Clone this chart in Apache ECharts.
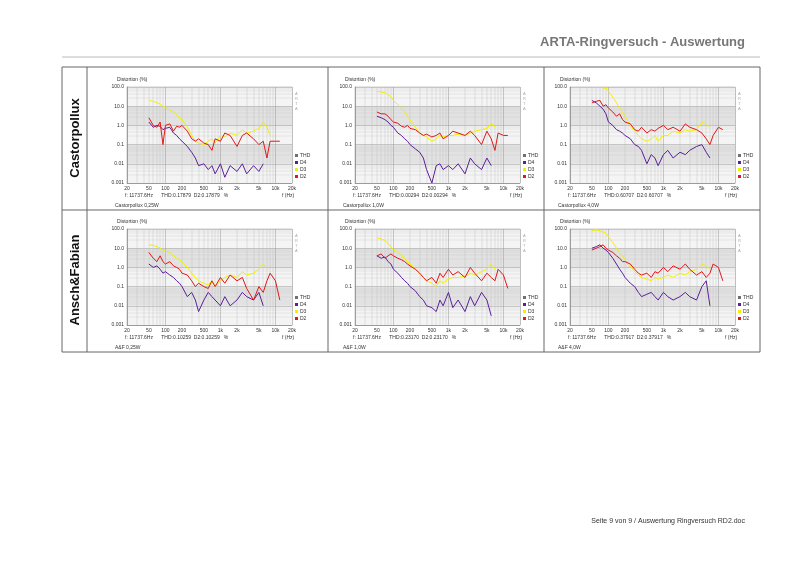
<!DOCTYPE html><html><head><meta charset="utf-8">
<script src="https://cdn.jsdelivr.net/npm/echarts@6/dist/echarts.min.js"></script>
<style>html,body{margin:0;padding:0;background:#fff}#c{width:800px;height:565px}</style></head><body><div id="c"></div>
<script>
const freqs=[50,60,70,80,90,100,120,140,160,180,200,250,300,350,400,500,600,700,800,1000,1200,1500,2000,2500,3000,4000,5000,6000,7000,8000,10000,12000];
const xTicks=[20,50,100,200,500,1000,2000,5000,10000,20000];
const xTickLabels=['20','50','100','200','500','1k','2k','5k','10k','20k'];
const yTickLabels=['0.001','0.01','0.1','1.0','10.0','100.0'];
const rowLabels=['Castorpollux','Ansch&Fabian'];
const captions=['Castorpollux 0,25W','Castorpollux 1,0W','Castorpollux 4,0W','A&F 0,25W','A&F 1,0W','A&F 4,0W'];
const thdTexts=['0.17879','0.00294','0.60707','0.10259','0.23170','0.37917'];
// per panel: D4, D3, D2
const d4_1=[1.5,0.8,1,0.9,0.6,0.7,0.8,0.4,0.3,0.2,0.15,0.08,0.04,0.02,0.008,0.01,0.005,0.008,0.003,0.01,0.002,0.008,0.004,0.01,0.003,0.008,0.004,0.01,null,null,null,null];
const d3_1=[20,18,15,13,10,9,6,5,3.5,2.5,2,0.8,0.3,0.15,0.12,0.1,0.15,0.2,0.12,0.3,0.25,0.4,0.3,0.6,0.4,0.5,0.7,1.5,0.8,0.3,null,null];
const d2_1=[2.5,1,0.8,1.5,0.1,1,1.2,0.5,0.9,0.8,1,0.5,0.2,0.15,0.2,0.12,0.1,0.05,0.2,0.15,0.4,0.3,0.08,0.3,0.4,0.2,0.1,0.15,0.02,0.15,0.15,0.15];
const d4_2=[3,2.5,2,1.5,1,0.8,0.4,0.3,0.2,0.15,0.1,0.06,0.04,0.02,0.005,0.001,0.008,0.01,0.005,0.008,0.005,0.01,0.003,0.02,0.01,0.005,0.02,0.008,null,null,null,null];
const d3_2=[60,55,50,40,30,20,12,8,5,3,2,0.8,0.4,0.3,0.25,0.15,0.2,0.3,0.25,0.3,0.3,0.35,0.3,0.4,0.5,0.6,0.7,1.3,0.8,null,null,null];
const d2_2=[5,4,4,3,2,1.5,1.3,0.9,0.8,1,0.7,0.6,0.4,0.3,0.35,0.25,0.3,0.4,0.2,0.3,0.5,0.4,0.3,0.5,0.3,0.1,0.5,0.2,0.05,0.4,0.3,0.3];
const d4_3=[20,15,10,7,4,1.5,1,0.6,0.5,0.4,0.3,0.2,0.1,0.08,0.05,0.01,0.03,0.02,0.008,0.03,0.05,0.02,0.04,0.03,0.05,0.08,0.1,0.04,0.02,null,null,null];
const d3_3=[null,null,null,80,90,60,30,15,8,5,3,1,0.5,0.3,0.2,0.15,0.2,0.3,0.15,0.3,0.3,0.5,0.4,0.6,0.5,0.6,1.5,1.2,0.8,null,null,null];
const d2_3=[15,18,20,10,12,8,5,3,4,2,1.5,1.2,0.6,0.5,0.8,0.4,0.6,0.5,0.7,1,0.6,0.8,0.5,1.2,0.8,0.6,0.4,0.2,0.1,0.3,0.8,0.6];
const d4_4=[1.5,1,1.2,0.8,0.5,0.6,0.4,0.3,0.2,0.15,0.1,0.03,0.05,0.02,0.005,0.02,0.05,0.03,0.02,0.01,0.03,0.01,0.02,0.05,0.03,0.02,0.05,0.01,null,null,null,null];
const d3_4=[15,14,12,10,8,7,6,4,3,2.5,2,1,0.5,0.3,0.2,0.15,0.12,0.2,0.1,0.2,0.3,0.4,0.3,0.6,0.4,0.5,0.8,1.5,0.9,null,null,null];
const d2_4=[6,3,2,4,2,1.5,2,1.2,1,0.8,0.5,0.4,0.2,0.1,0.15,0.1,0.08,0.2,0.1,0.3,0.15,0.4,0.2,0.3,0.08,0.02,0.1,0.05,0.2,0.5,0.2,0.02];
const d4_5=[4,3,3.5,2,1.5,0.8,0.5,0.3,0.2,0.15,0.1,0.06,0.03,0.02,0.01,0.008,0.005,0.02,0.01,0.05,0.008,0.02,0.005,0.03,0.01,0.05,0.02,0.003,null,null,null,null];
const d3_5=[35,30,25,18,12,8,6,4,3,2,1.5,0.8,0.5,0.3,0.2,0.15,0.1,0.2,0.15,0.25,0.3,0.3,0.35,0.5,0.4,0.6,0.8,1.5,0.8,null,null,null];
const d2_5=[4,5,3,4,5,4,3,2.5,2,1.5,1.2,0.8,0.5,0.3,0.2,0.3,0.15,0.5,0.3,0.8,0.4,0.6,0.3,1,0.5,0.2,0.5,0.3,0.2,0.8,0.4,0.08];
const d4_6=[10,12,15,10,8,6,3,1.5,0.8,0.5,0.3,0.15,0.1,0.05,0.03,0.04,0.05,0.03,0.02,0.05,0.03,0.02,0.03,0.05,0.03,0.02,0.1,0.2,0.01,null,null,null];
const d3_6=[80,90,80,70,60,40,20,10,6,4,2.5,1.2,0.6,0.4,0.3,0.25,0.2,0.3,0.25,0.3,0.4,0.3,0.5,0.4,0.6,0.8,1.5,1.2,0.8,null,null,null];
const d2_6=[8,10,12,15,10,8,6,4,3,2,2,1.5,0.8,0.5,0.4,0.5,0.3,0.6,0.5,1,0.6,1.2,0.8,1.5,0.8,0.4,0.6,0.3,0.5,1.5,1,0.2];
const panels=[[d4_1,d3_1,d2_1],[d4_2,d3_2,d2_2],[d4_3,d3_3,d2_3],[d4_4,d3_4,d2_4],[d4_5,d3_5,d2_5],[d4_6,d3_6,d2_6]];
const seriesNames=['D4','D3','D2'];
const colors={THD:'#707070',D4:'#5a1f9c',D3:'#f0f000',D2:'#e01818'};

const px=[127,355,570], py=[87,229], pw=165, ph=96;
const grid=[],xAxis=[],yAxis=[],series=[],legend=[],g=[];
const tiny={fontSize:5,color:'#333',fontFamily:'Arial'};
panels.forEach((p,i)=>{
  const r=Math.floor(i/3),c=i%3,L=px[c],T=py[r];
  grid.push({left:L,top:T,width:pw,height:ph,show:true,backgroundColor:'#fafafa',borderColor:'#999',borderWidth:0.5});
  xAxis.push({type:'log',gridIndex:i,min:20,max:20000,logBase:10,
    axisLine:{lineStyle:{color:'#777',width:0.5}},axisTick:{show:false},
    axisLabel:{customValues:xTicks,formatter:v=>xTickLabels[xTicks.indexOf(Math.round(v))]??'',fontSize:5,color:'#333',margin:3},
    splitLine:{show:true,lineStyle:{color:'#999',width:0.5}},minorTick:{show:false,splitNumber:9},
    minorSplitLine:{show:true,lineStyle:{color:'#bbb',width:0.4}}});
  yAxis.push({type:'log',gridIndex:i,min:0.001,max:100,logBase:10,
    axisLine:{lineStyle:{color:'#777',width:0.5}},axisTick:{show:false},
    axisLabel:{formatter:v=>{const k=Math.round(Math.log10(v))+3;return yTickLabels[k]??''},fontSize:5,color:'#333',margin:3},
    splitLine:{lineStyle:{color:'#999',width:0.5}},
    splitArea:{show:true,areaStyle:{color:['#f4f4f4','#e2e2e2']}},
    minorSplitLine:{show:true,lineStyle:{color:'#ccc',width:0.4}}});
  p.forEach((arr,k)=>{
    series.push({type:'line',name:seriesNames[k],xAxisIndex:i,yAxisIndex:i,showSymbol:false,
      data:freqs.map((f,j)=>arr[j]==null?null:[f,arr[j]]),connectNulls:false,
      lineStyle:{width:1,color:colors[seriesNames[k]]},itemStyle:{color:colors[seriesNames[k]]},z:k===0?3:(k===1?4:5),silent:true});
  });
  legend.push({left:L+pw+3,top:T+ph-30,orient:'vertical',itemWidth:3,itemHeight:3,itemGap:2,icon:'rect',
    data:['THD','D4','D3','D2'],textStyle:{fontSize:5,color:'#333',padding:[0,0,0,-3]},selectedMode:false,padding:0});
  series.push({type:'line',name:'THD',xAxisIndex:i,yAxisIndex:i,data:[],itemStyle:{color:colors.THD}});
  g.push({type:'text',left:L-10,top:T-10,style:{text:'Distortion (%)',fontSize:5,fill:'#333'}});
  g.push({type:'text',left:L+pw+3,top:T+4,style:{text:'A\nR\nT\nA',fontSize:4,fill:'#aaa',lineHeight:5}});
  g.push({type:'text',left:L-2,top:T+ph+10,style:{text:'f: 11737.6Hz      THD:'+thdTexts[i]+'  D2:0.'+thdTexts[i].slice(2)+'   %',fontSize:5,fill:'#333'}});
  g.push({type:'text',left:L+pw-10,top:T+ph+10,style:{text:'f (Hz)',fontSize:5,fill:'#333'}});
  g.push({type:'text',left:L-12,top:T+ph+20,style:{text:captions[i],fontSize:5,fill:'#333'}});
});
// table
const tl='#666';
[[62,67,760,67],[62,210,760,210],[62,352,760,352],[87,67,87,352],[328,67,328,352],[544,67,544,352],[62,67,62,352],[760,67,760,352]].forEach(a=>{
  g.push({type:'line',shape:{x1:a[0],y1:a[1],x2:a[2],y2:a[3]},style:{stroke:tl,lineWidth:1}});
});
g.push({type:'line',shape:{x1:62,y1:57,x2:760,y2:57},style:{stroke:'#bbb',lineWidth:1}});
rowLabels.forEach((t,r)=>{
  g.push({type:'text',x:75,y:r===0?138:280,rotation:Math.PI/2,style:{text:t,fontSize:13,fontWeight:'bold',fill:'#111',align:'center',verticalAlign:'middle',fontFamily:'Arial'}});
});
g.push({type:'text',right:55,top:36,style:{text:'ARTA-Ringversuch - Auswertung',fontSize:13,fontWeight:'bold',fill:'#777',fontFamily:'Arial'}});
g.push({type:'text',right:55,top:518,style:{text:'Seite 9 von 9 / Auswertung Ringversuch RD2.doc',fontSize:7,fill:'#333',fontFamily:'Arial'}});
const ch=echarts.init(document.getElementById('c'));
ch.setOption({animation:false,backgroundColor:'#fff',grid,xAxis,yAxis,series,legend,graphic:g});
</script></body></html>
